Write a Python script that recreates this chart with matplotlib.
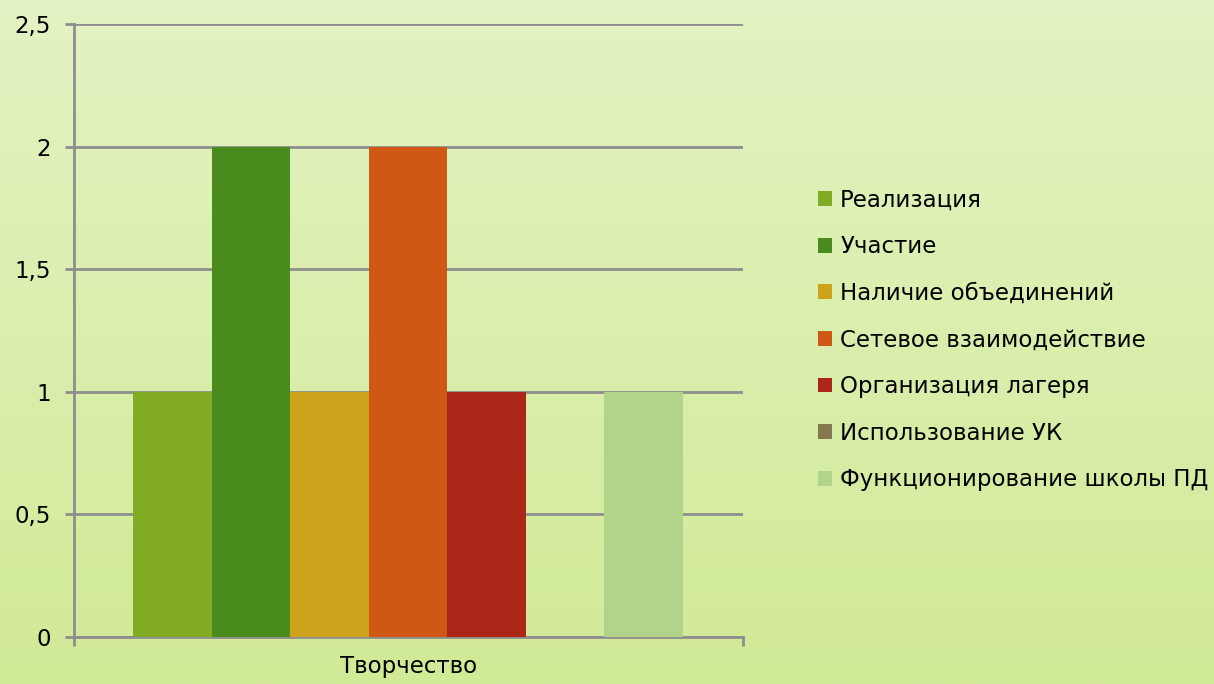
import numpy as np
import matplotlib.pyplot as plt
from matplotlib.colors import LinearSegmentedColormap

# Данные
category = "Творчество"
series = ["Реализация", "Участие", "Наличие объединений", "Сетевое взаимодействие",
          "Организация лагеря", "Использование УК", "Функционирование школы ПД"]
values = [1, 2, 1, 2, 1, 0, 1]
colors = ["#80AB22", "#4A8B1E", "#CDA31B", "#CF5914", "#AC2718", "#84784E", "#B2D38A"]
yticks = [0, 0.5, 1, 1.5, 2, 2.5]
ytick_labels = ["0", "0,5", "1", "1,5", "2", "2,5"]

plt.rcParams['font.family'] = ['DejaVu Sans']
fs = 16.5

fig = plt.figure(figsize=(12.14, 6.84), dpi=100)

# Фон с градиентом
bg = fig.add_axes([0, 0, 1, 1], zorder=-10)
grad = np.linspace(0, 1, 256).reshape(-1, 1)
cmap = LinearSegmentedColormap.from_list("bg", ["#E3F3C3", "#D1EA96"])
bg.imshow(grad, aspect='auto', cmap=cmap, extent=[0, 1, 0, 1], origin='upper')
bg.axis('off')

ax = fig.add_axes([74 / 1214, 1 - 637 / 684, 669 / 1214, 613 / 684])
ax.patch.set_alpha(0)

n = len(series)
group = 550 / 669
w = group / n
start = 0.0882 - 0.5
for i, (name, v, c) in enumerate(zip(series, values, colors)):
    ax.bar(start + w * i, v, width=w, align='edge', color=c, label=name, zorder=3)

ax.set_xlim(-0.5, 0.5)
ax.set_ylim(0, 2.5)
ax.set_yticks(yticks)
ax.set_yticklabels(ytick_labels, fontsize=fs)
ax.yaxis.grid(True, color="#8E8E8E", linewidth=2, zorder=0)
ax.set_axisbelow(True)
ax.tick_params(axis='y', length=6.5, width=2, color="#8E8E8E", pad=10)
ax.set_xticks([-0.5, 0.5])
ax.set_xticklabels(["", ""])
ax.tick_params(axis='x', length=6.5, width=2, color="#8E8E8E")
ax.text(0.5, -0.03, category, transform=ax.transAxes, ha='center', va='top', fontsize=fs)

for s in ["top", "right"]:
    ax.spines[s].set_visible(False)
for s in ["left", "bottom"]:
    ax.spines[s].set_color("#8E8E8E")
    ax.spines[s].set_linewidth(2)

ax.legend(loc='center left', bbox_to_anchor=(818 / 1214, 1 - 340 / 684),
          bbox_transform=fig.transFigure, frameon=False, fontsize=fs,
          handlelength=0.62, handleheight=0.62, handletextpad=0.35,
          labelspacing=1.03, borderaxespad=0, borderpad=0)

fig.savefig("out.png", dpi=100)
